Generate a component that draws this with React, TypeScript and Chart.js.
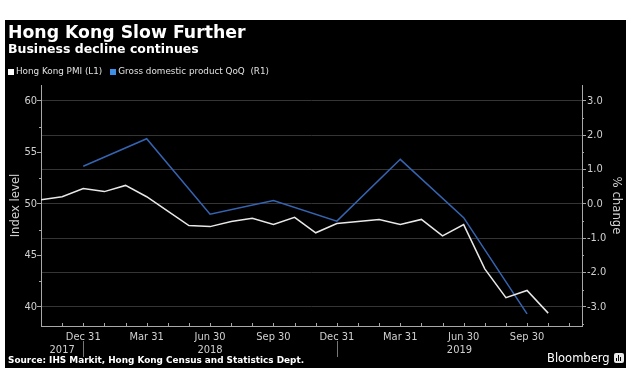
import { useEffect, useRef } from "react";
import { Chart, registerables } from "chart.js";

Chart.register(...registerables);

// ---- Data ----
const pmiMonths = [
  "Oct 2017", "Nov 2017", "Dec 2017",
  "Jan 2018", "Feb 2018", "Mar 2018", "Apr 2018", "May 2018", "Jun 2018",
  "Jul 2018", "Aug 2018", "Sep 2018", "Oct 2018", "Nov 2018", "Dec 2018",
  "Jan 2019", "Feb 2019", "Mar 2019", "Apr 2019", "May 2019", "Jun 2019",
  "Jul 2019", "Aug 2019", "Sep 2019", "Oct 2019",
];
const pmiValues = [
  50.4, 50.7, 51.5,
  51.2, 51.8, 50.7, 49.3, 47.9, 47.8,
  48.3, 48.6, 48.0, 48.7, 47.2, 48.1,
  48.3, 48.5, 48.0, 48.5, 46.9, 48.0,
  43.7, 40.9, 41.6, 39.4,
];
const gdpQuarters = [
  "Dec 2017", "Mar 2018", "Jun 2018", "Sep 2018",
  "Dec 2018", "Mar 2019", "Jun 2019", "Sep 2019",
];
const gdpValues = [1.1, 1.9, -0.3, 0.1, -0.5, 1.3, -0.4, -3.2];

const xTickMonths = [
  "Dec 2017", "Mar 2018", "Jun 2018", "Sep 2018",
  "Dec 2018", "Mar 2019", "Jun 2019", "Sep 2019",
];
const xTickLabels = ["Dec 31", "Mar 31", "Jun 30", "Sep 30", "Dec 31", "Mar 31", "Jun 30", "Sep 30"];
const yearLabels = ["2017", "2018", "2019"];
const leftTicks = [40, 45, 50, 55, 60];
const leftMinorTicks = [42.5, 47.5, 52.5, 57.5];
const rightTicks = [-3, -2, -1, 0, 1, 2, 3];
const rightMinorTicks = [-3.5, -2.5, -1.5, -0.5, 0.5, 1.5, 2.5];

const MONTHS = ["Jan", "Feb", "Mar", "Apr", "May", "Jun", "Jul", "Aug", "Sep", "Oct", "Nov", "Dec"];
const BASE_YEAR = 2017;
const BASE_MONTH = 9; // Oct
function monthIndex(s: string): number {
  const [m, y] = s.split(" ");
  return (Number(y) - BASE_YEAR) * 12 + MONTHS.indexOf(m) - BASE_MONTH;
}

const X_MIN = 0;
const X_MAX = 25.6;
const L_MIN = 38.15;
const L_MAX = 61.55;
const R_MIN = (L_MIN - 50) * 0.3;
const R_MAX = (L_MAX - 50) * 0.3;

const TICK_FONT = "'DejaVu Sans Condensed', 'DejaVu Sans', sans-serif";
const AXIS_COLOR = "#a8a8a8";
const LABEL_COLOR = "#d0d0d0";

const extrasPlugin = {
  id: "extras",
  afterDraw(chart: any) {
    const ctx = chart.ctx as CanvasRenderingContext2D;
    const x = chart.scales.x;
    const yL = chart.scales.yL;
    const yR = chart.scales.yR;
    const area = chart.chartArea;
    ctx.save();
    ctx.strokeStyle = AXIS_COLOR;
    ctx.lineWidth = 1;
    ctx.beginPath();
    for (let i = Math.ceil(X_MIN); i <= X_MAX; i++) {
      const px = Math.round(x.getPixelForValue(i)) + 0.5;
      ctx.moveTo(px, area.bottom);
      ctx.lineTo(px, area.bottom - 3);
    }
    for (const v of leftMinorTicks) {
      const py = Math.round(yL.getPixelForValue(v)) + 0.5;
      ctx.moveTo(area.left, py);
      ctx.lineTo(area.left - 2, py);
    }
    for (const v of rightMinorTicks) {
      const py = Math.round(yR.getPixelForValue(v)) + 0.5;
      ctx.moveTo(area.right, py);
      ctx.lineTo(area.right + 2, py);
    }
    ctx.stroke();

    ctx.fillStyle = LABEL_COLOR;
    ctx.font = `11px ${TICK_FONT}`;
    ctx.textAlign = "center";
    ctx.textBaseline = "middle";
    const yearY = area.bottom + 24;
    ctx.beginPath();
    for (const yl of yearLabels) {
      const yr = Number(yl);
      const start = Math.max(X_MIN, monthIndex("Dec " + (yr - 1)));
      const end = Math.min(X_MAX, monthIndex("Dec " + yr));
      const mid = (start + end) / 2;
      ctx.fillText(yl, x.getPixelForValue(mid), yearY);
      if (start > X_MIN) {
        const px = Math.round(x.getPixelForValue(start)) + 0.5;
        ctx.moveTo(px, area.bottom + 15);
        ctx.lineTo(px, area.bottom + 31);
      }
    }
    ctx.strokeStyle = "#777";
    ctx.stroke();
    ctx.restore();
  },
};

export default function App() {
  const canvasRef = useRef<HTMLCanvasElement | null>(null);

  useEffect(() => {
    const canvas = canvasRef.current;
    if (!canvas) return;
    const chart = new Chart(canvas, {
      type: "line",
      data: {
        datasets: [
          {
            label: "Hong Kong PMI (L1)",
            data: pmiMonths.map((m, i) => ({ x: monthIndex(m), y: pmiValues[i] })),
            borderColor: "#e8e8e8",
            borderWidth: 1.5,
            pointRadius: 0,
            tension: 0,
            yAxisID: "yL",
          },
          {
            label: "Gross domestic product QoQ (R1)",
            data: gdpQuarters.map((m, i) => ({ x: monthIndex(m), y: gdpValues[i] })),
            borderColor: "#3565b2",
            borderWidth: 1.5,
            pointRadius: 0,
            tension: 0,
            yAxisID: "yR",
          },
        ],
      },
      options: {
        animation: false,
        responsive: false,
        maintainAspectRatio: false,
        layout: { padding: { top: 65, left: 0, right: 0, bottom: 0 } },
        plugins: { legend: { display: false }, tooltip: { enabled: false }, title: { display: false } },
        scales: {
          x: {
            type: "linear",
            min: X_MIN,
            max: X_MAX,
            afterBuildTicks: (s: any) => {
              s.ticks = xTickMonths.map((m) => ({ value: monthIndex(m) }));
            },
            afterFit: (s: any) => {
              s.height = 42;
            },
            ticks: {
              color: LABEL_COLOR,
              font: { family: TICK_FONT, size: 11 },
              padding: 5,
              maxRotation: 0,
              autoSkip: false,
              callback: (_v: any, i: number) => xTickLabels[i],
            },
            grid: { display: true, drawOnChartArea: false, drawTicks: false },
            border: { color: AXIS_COLOR, width: 1 },
          },
          yL: {
            type: "linear",
            position: "left",
            min: L_MIN,
            max: L_MAX,
            afterBuildTicks: (s: any) => {
              s.ticks = leftTicks.map((v) => ({ value: v }));
            },
            afterFit: (s: any) => {
              s.width = 36;
            },
            ticks: {
              color: LABEL_COLOR,
              font: { family: TICK_FONT, size: 11 },
              padding: 0,
              callback: (v: any) => String(v),
            },
            grid: { drawOnChartArea: false, drawTicks: true, tickLength: 4, tickColor: AXIS_COLOR },
            border: { color: AXIS_COLOR, width: 1 },
            title: {
              display: true,
              text: "Index level",
              color: LABEL_COLOR,
              font: { family: TICK_FONT, size: 13 },
              padding: { top: 3, bottom: 0 },
            },
          },
          yR: {
            type: "linear",
            position: "right",
            min: R_MIN,
            max: R_MAX,
            afterBuildTicks: (s: any) => {
              s.ticks = rightTicks.map((v) => ({ value: v }));
            },
            afterFit: (s: any) => {
              s.width = 44;
            },
            ticks: {
              color: LABEL_COLOR,
              font: { family: TICK_FONT, size: 11 },
              padding: 1,
              callback: (v: any) => Number(v).toFixed(1),
            },
            grid: {
              drawOnChartArea: true,
              color: "#353535",
              drawTicks: true,
              tickLength: 4,
              tickColor: AXIS_COLOR,
            },
            border: { color: AXIS_COLOR, width: 1 },
            title: {
              display: true,
              text: "% change",
              color: LABEL_COLOR,
              font: { family: TICK_FONT, size: 13 },
              padding: { top: 2, bottom: 0 },
            },
          },
        },
      },
      plugins: [extrasPlugin],
    });
    return () => chart.destroy();
  }, []);

  const white = "#ffffff";
  return (
    <div style={{ position: "absolute", left: 0, top: 0, width: 642, height: 381, background: "#fff", overflow: "hidden" }}>
      <div style={{ position: "absolute", left: 5, top: 20, width: 621, height: 348, background: "#000" }}>
        <canvas ref={canvasRef} width={621} height={348} style={{ position: "absolute", left: 0, top: 0, width: 621, height: 348 }} />
        <div style={{ position: "absolute", left: 3, top: 2, color: white, font: "bold 17.3px 'DejaVu Sans', sans-serif", whiteSpace: "nowrap", lineHeight: "20px" }}>
          Hong Kong Slow Further
        </div>
        <div style={{ position: "absolute", left: 3, top: 21, color: white, font: "bold 12.5px 'DejaVu Sans', sans-serif", whiteSpace: "nowrap", lineHeight: "15px" }}>
          Business decline continues
        </div>
        <div style={{ position: "absolute", left: 3, top: 46, color: "#e0e0e0", font: "8.8px 'DejaVu Sans', sans-serif", whiteSpace: "nowrap", lineHeight: "11px", display: "flex", alignItems: "center" }}>
          <span style={{ display: "inline-block", width: 6, height: 6, background: "#ffffff", marginRight: 2 }} />
          <span>Hong Kong PMI (L1)</span>
          <span style={{ display: "inline-block", width: 6, height: 6, background: "#3f8ee6", marginLeft: 8, marginRight: 2 }} />
          <span style={{ whiteSpace: "pre" }}>Gross domestic product QoQ  (R1)</span>
        </div>
        <div style={{ position: "absolute", left: 3, top: 335, color: white, font: "bold 8.9px 'DejaVu Sans', sans-serif", whiteSpace: "nowrap", lineHeight: "10px" }}>
          Source: IHS Markit, Hong Kong Census and Statistics Dept.
        </div>
        <div style={{ position: "absolute", left: 542, top: 331, color: white, font: "11.5px 'DejaVu Sans', sans-serif", whiteSpace: "nowrap", lineHeight: "14px", display: "flex", alignItems: "center" }}>
          <span>Bloomberg</span>
          <span style={{ display: "inline-block", width: 10, height: 10, background: "#e8e8e8", borderRadius: 2, marginLeft: 4, position: "relative" }}>
            <span style={{ position: "absolute", left: 2, bottom: 2, width: 1, height: 3, background: "#000" }} />
            <span style={{ position: "absolute", left: 4, bottom: 2, width: 1, height: 6, background: "#000" }} />
            <span style={{ position: "absolute", left: 6, bottom: 2, width: 1, height: 4, background: "#000" }} />
          </span>
        </div>
      </div>
    </div>
  );
}
